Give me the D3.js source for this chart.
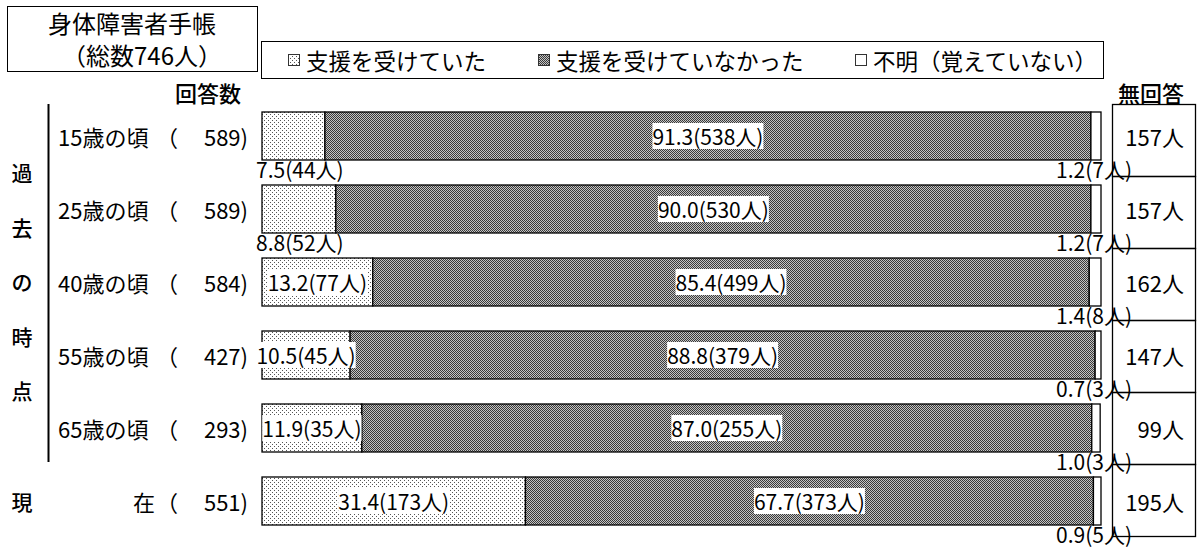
<!DOCTYPE html>
<html>
<head>
<meta charset="utf-8">
<script src="https://cdn.jsdelivr.net/npm/d3@7/dist/d3.min.js"></script>
<style>
  body { margin: 0; background: #fff; }
  text { font-family: 'Noto Sans CJK JP', sans-serif; fill: #000; }
</style>
</head>
<body>
<svg id="chart" width="1200" height="547"></svg>
<script>

var categories = ['15歳の頃', '25歳の頃', '40歳の頃', '55歳の頃', '65歳の頃', '現在'];
var answerCounts = [589, 589, 584, 427, 293, 551];
var supportedPct = [7.5, 8.8, 13.2, 10.5, 11.9, 31.4];
var supportedN = [44, 52, 77, 45, 35, 173];
var notSupportedPct = [91.3, 90.0, 85.4, 88.8, 87.0, 67.7];
var notSupportedN = [538, 530, 499, 379, 255, 373];
var unknownPct = [1.2, 1.2, 1.4, 0.7, 1.0, 0.9];
var unknownN = [7, 7, 8, 3, 3, 5];
var noAnswer = [157, 157, 162, 147, 99, 195];
var seriesNames = ['支援を受けていた', '支援を受けていなかった', '不明（覚えていない）'];
var pastLabel = ['過', '去', 'の', '時', '点'];

var drawChart = (function(d3) {

  var svg = d3.select('#chart'),
      x = d3.scaleLinear().domain([0, 100]).range([262, 1101]),
      yBar = d3.scaleBand().domain(categories).range([104, 542]),
      yCell = d3.scaleBand().domain(categories).range([104, 536]),
      barH = 48,
      fmt = d3.format('.1f'),
      keys = ['s', 'n', 'u'],
      fills = ['url(#dots)', 'url(#dense)', '#fff']
      ;

  function barTop(c) { return yBar(c) + 8; }

  // patterns
  var defs = svg.append('defs');
  var dots = defs.append('pattern').attr('id', 'dots')
      .attr('patternUnits', 'userSpaceOnUse').attr('width', 4).attr('height', 4);
  dots.append('rect').attr('width', 4).attr('height', 4).attr('fill', '#fff');
  dots.append('rect').attr('x', 0).attr('y', 0).attr('width', 1).attr('height', 1).attr('fill', '#555');
  dots.append('rect').attr('x', 2).attr('y', 2).attr('width', 1).attr('height', 1).attr('fill', '#555');

  var dense = defs.append('pattern').attr('id', 'dense')
      .attr('patternUnits', 'userSpaceOnUse').attr('width', 2).attr('height', 2);
  dense.append('rect').attr('width', 2).attr('height', 2).attr('fill', '#c4c4c4');
  dense.append('rect').attr('x', 0).attr('y', 0).attr('width', 1).attr('height', 1).attr('fill', '#3a3a3a');
  dense.append('rect').attr('x', 1).attr('y', 1).attr('width', 1).attr('height', 1).attr('fill', '#3a3a3a');

  // title box
  svg.append('rect').attr('x', 7.5).attr('y', 6.5).attr('width', 250).attr('height', 65)
      .attr('fill', 'none').attr('stroke', '#000');
  svg.append('text').attr('x', 132).attr('y', 22).attr('text-anchor', 'middle')
      .attr('dominant-baseline', 'central').style('font-size', '24px').text('身体障害者手帳');
  svg.append('text').attr('x', 142).attr('y', 54).attr('text-anchor', 'middle')
      .attr('dominant-baseline', 'central').style('font-size', '24px').text('（総数746人）');

  // legend
  svg.append('rect').attr('x', 261.5).attr('y', 41.5).attr('width', 842).attr('height', 37)
      .attr('fill', 'none').attr('stroke', '#000');
  var legX = [288, 538, 855];
  seriesNames.forEach(function(name, i) {
    svg.append('rect').attr('x', legX[i] + 0.5).attr('y', 54.5).attr('width', 11).attr('height', 11)
        .attr('fill', fills[i]).attr('stroke', '#333');
    svg.append('text').attr('x', legX[i] + 18).attr('y', 60)
        .attr('dominant-baseline', 'central').style('font-size', '22.5px').text(name);
  });

  // column headings
  svg.append('text').attr('x', 208).attr('y', 92).attr('text-anchor', 'middle')
      .attr('dominant-baseline', 'central').style('font-size', '22px').style('font-weight', '500').text('回答数');
  svg.append('text').attr('x', 1151).attr('y', 92).attr('text-anchor', 'middle')
      .attr('dominant-baseline', 'central').style('font-size', '22px').style('font-weight', '500').text('無回答');

  // left side labels
  var past = d3.scalePoint().domain(pastLabel).range([172, 390]);
  svg.selectAll('.past').data(pastLabel).enter().append('text')
      .attr('x', 22).attr('y', function(d) { return past(d); })
      .attr('text-anchor', 'middle').attr('dominant-baseline', 'central')
      .style('font-size', '21px').style('font-weight', '500').text(function(d) { return d; });
  svg.append('line').attr('x1', 48.5).attr('x2', 48.5)
      .attr('y1', 104).attr('y2', yCell(categories[4]) + yCell.bandwidth() - 2)
      .attr('stroke', '#000').attr('stroke-width', 2);

  categories.forEach(function(c, i) {
    var cy = barTop(c) + barH / 2;
    if (c === '現在') {
      svg.append('text').attr('x', 22).attr('y', cy).attr('text-anchor', 'middle')
          .attr('dominant-baseline', 'central').style('font-size', '21px').style('font-weight', '500').text('現');
      svg.append('text').attr('x', 155).attr('y', cy).attr('text-anchor', 'end')
          .attr('dominant-baseline', 'central').style('font-size', '22px').text('在');
    } else {
      svg.append('text').attr('x', 58).attr('y', cy)
          .attr('dominant-baseline', 'central').style('font-size', '22px').text(c);
    }
    svg.append('text').attr('x', 156).attr('y', cy)
        .attr('dominant-baseline', 'central').style('font-size', '22px').text('（');
    svg.append('text').attr('x', 248).attr('y', cy).attr('text-anchor', 'end')
        .attr('dominant-baseline', 'central').style('font-size', '22px').text(answerCounts[i] + ')');
  });

  // stacked bars
  var rows = categories.map(function(c, i) {
    return { cat: c, s: supportedPct[i], n: notSupportedPct[i], u: unknownPct[i],
             sN: supportedN[i], nN: notSupportedN[i], uN: unknownN[i] };
  });
  var stack = d3.stack().keys(keys)(rows);

  var layers = svg.selectAll('.layer')
      .data(stack)
    .enter().append('g')
      .attr('class', 'layer')
      .attr('fill', function(d, i) { return fills[i]; });

  layers.selectAll('rect')
      .data(function(d) { return d; })
    .enter().append('rect')
      .attr('x', function(d) { return x(d[0]); })
      .attr('y', function(d) { return barTop(d.data.cat); })
      .attr('width', function(d) { return x(d[1]) - x(d[0]); })
      .attr('height', barH)
      .attr('stroke', '#000')
      .attr('stroke-width', 1.3);

  // value labels
  var labels = svg.append('g');
  function inside(cx, cy, str) {
    var g = labels.append('g');
    var t = g.append('text').attr('x', cx).attr('y', cy).attr('text-anchor', 'middle')
        .attr('dominant-baseline', 'central').style('font-size', '21px').text(str);
    var b = t.node().getBBox();
    g.insert('rect', 'text').attr('x', b.x).attr('y', b.y + 2).attr('width', b.width)
        .attr('height', b.height - 4).attr('fill', '#fff');
  }

  rows.forEach(function(r) {
    var top = barTop(r.cat), cy = top + barH / 2, below = top + barH + 9;
    var s0 = 0, s1 = r.s, n1 = r.s + r.n;
    var sText = fmt(r.s) + '(' + r.sN + '人)';
    if (r.s >= 10) {
      inside(x((s0 + s1) / 2), cy, sText);
    } else {
      labels.append('text').attr('x', x(0) - 6).attr('y', below)
          .attr('dominant-baseline', 'central').style('font-size', '21px').text(sText);
    }
    inside(x((s1 + n1) / 2), cy, fmt(r.n) + '(' + r.nN + '人)');
    labels.append('text').attr('x', x(100) + 31).attr('y', below).attr('text-anchor', 'end')
        .attr('dominant-baseline', 'central').style('font-size', '21px')
        .text(fmt(r.u) + '(' + r.uN + '人)');
  });

  // no answer cells
  var cells = svg.selectAll('.cell').data(categories).enter().append('g').attr('class', 'cell');
  cells.append('rect')
      .attr('x', 1112.5).attr('y', function(d) { return yCell(d) + 0.5; })
      .attr('width', 83).attr('height', yCell.bandwidth())
      .attr('fill', 'none').attr('stroke', '#000').attr('stroke-width', 1.3);
  cells.append('text')
      .attr('x', 1184).attr('y', function(d) { return barTop(d) + barH / 2; })
      .attr('text-anchor', 'end').attr('dominant-baseline', 'central')
      .style('font-size', '22px')
      .text(function(d, i) { return noAnswer[i] + '人'; });

})(d3);

</script>
</body>
</html>
